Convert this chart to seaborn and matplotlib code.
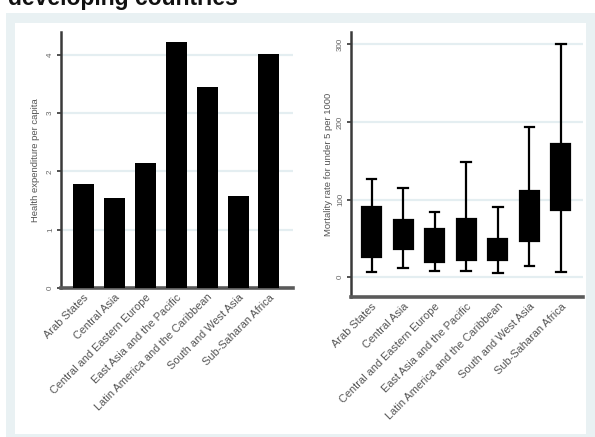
import matplotlib
matplotlib.use("Agg")
import matplotlib.pyplot as plt
from matplotlib.patches import Rectangle
import numpy as np
import pandas as pd
import seaborn as sns

# Regions shown on both panels
regions = [
    "Arab States",
    "Central Asia",
    "Central and Eastern Europe",
    "East Asia and the Pacific",
    "Latin America and the Caribbean",
    "South and West Asia",
    "Sub-Saharan Africa",
]

# Left panel: health expenditure per capita
health_exp = [1.78, 1.54, 2.15, 4.21, 3.45, 1.58, 4.01]
health_ticks = [0, 1, 2, 3, 4]
health_tick_labels = ["0", "1", "2", "3", "4"]

# Right panel: under-5 mortality per 1000 (min, q1, median, q3, max)
mort_min = [7, 11.5, 8, 8, 6, 14.5, 7]
mort_q1 = [26.5, 37, 20, 22, 22, 47, 86]
mort_med = [55, 55, 40, 45, 35, 75, 122]
mort_q3 = [90, 74, 62, 75, 49, 111, 172]
mort_max = [127, 114.5, 84, 148, 90, 193, 300]
mort_ticks = [0, 100, 200, 300]
mort_tick_labels = ["0", "100", "200", "300"]

W, H = 595, 437
fig = plt.figure(figsize=(W / 100, H / 100), dpi=100)
fig.patch.set_facecolor("white")
plt.rcParams["font.family"] = ["Liberation Sans", "DejaVu Sans"]

# Light framing panel with white plotting area
fig.add_artist(Rectangle((6 / W, 0), 1 - 6 / W, 1 - 12.5 / H,
                         transform=fig.transFigure, facecolor="#e9f1f3",
                         edgecolor="none", zorder=0))
fig.add_artist(Rectangle((14.5 / W, 3 / H), (586 - 14.5) / W, (434 - 23) / H,
                         transform=fig.transFigure, facecolor="white",
                         edgecolor="none", zorder=0))

fig.text(7.5 / W, 1 - 4.5 / H, "developing countries", fontsize=16.5,
         fontweight="bold", color="#111111", va="baseline", ha="left")

grid_col = "#e4eef1"
tick_col = "#666666"


def style_axes(ax):
    ax.set_facecolor("none")
    for s in ("top", "right"):
        ax.spines[s].set_visible(False)
    ax.spines["left"].set_color("#3a3a3a")
    ax.spines["left"].set_linewidth(1.8)
    ax.spines["bottom"].set_color("#5a5a5a")
    ax.spines["bottom"].set_linewidth(2.6)
    ax.grid(False)
    ax.tick_params(axis="y", length=3, width=1.2, color="#333333",
                   labelsize=5.8, labelcolor=tick_col, pad=2)
    ax.tick_params(axis="x", length=0, labelsize=7.9, labelcolor="#555555", pad=3)
    for lab in ax.get_yticklabels():
        lab.set_rotation(90)
        lab.set_va("center")
    for lab in ax.get_xticklabels():
        lab.set_rotation(45)
        lab.set_ha("right")
        lab.set_rotation_mode("anchor")


# ---- left: bar chart ----
ax1 = fig.add_axes([61 / W, 1 - 288 / H, 232 / W, (288 - 32) / H])
bar_df = pd.DataFrame({"region": regions, "value": health_exp})
sns.barplot(data=bar_df, x="region", y="value", color="black", width=0.68,
            saturation=1, ax=ax1, zorder=3)
ax1.set_xlim(-0.73, 6.78)
ax1.set_ylim(0, 4.39)
ax1.set_yticks(health_ticks)
ax1.set_yticklabels(health_tick_labels)
for t in health_ticks[1:]:
    ax1.axhline(t, color=grid_col, lw=1.6, zorder=1)
ax1.set_xlabel("")
ax1.set_ylabel("Health expenditure per capita", fontsize=6.8, color="#555555",
               labelpad=5)
style_axes(ax1)

# ---- right: box plot ----
ax2 = fig.add_axes([351 / W, 1 - 297 / H, 232 / W, (297 - 32) / H])
rows = []
for i, r in enumerate(regions):
    for v in (mort_min[i], mort_q1[i], mort_med[i], mort_q3[i], mort_max[i]):
        rows.append({"region": r, "value": v})
box_df = pd.DataFrame(rows)
for t in mort_ticks:
    ax2.axhline(t, color=grid_col, lw=1.6, zorder=0)
sns.boxplot(data=box_df, x="region", y="value", order=regions, whis=(0, 100),
            width=0.6, color="black", linecolor="black", linewidth=1.6,
            saturation=1, ax=ax2)
ax2.set_xlim(-0.65, 6.7)
ax2.set_ylim(-25.4, 315.7)
ax2.set_yticks(mort_ticks)
ax2.set_yticklabels(mort_tick_labels)
ax2.set_xlabel("")
ax2.set_ylabel("Mortality rate for under 5 per 1000", fontsize=6.8,
               color="#555555", labelpad=3)
style_axes(ax2)

fig.savefig("out.png", dpi=100, facecolor=fig.get_facecolor())
